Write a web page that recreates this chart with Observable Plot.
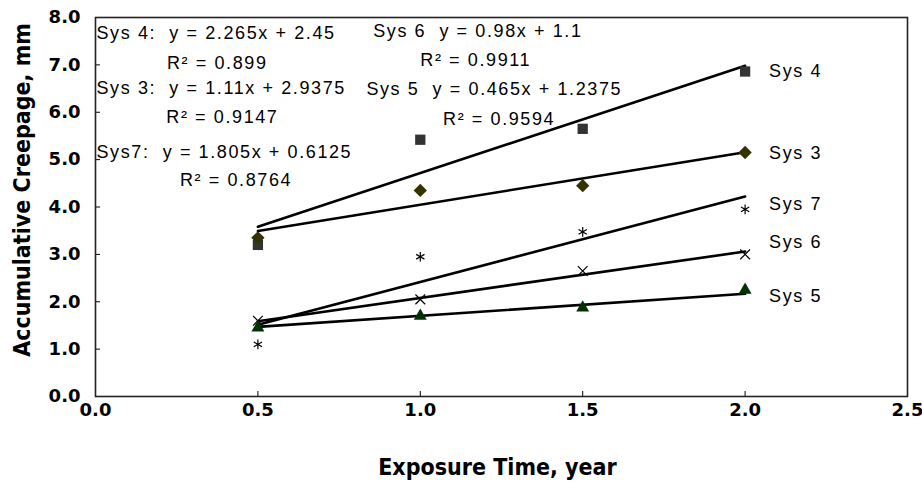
<!DOCTYPE html>
<html><head><meta charset="utf-8">
<script src="https://cdn.jsdelivr.net/npm/d3@7"></script>
<script src="https://cdn.jsdelivr.net/npm/@observablehq/plot@0.6"></script>
<style>
body{margin:0;background:#fff;}
g[aria-description="annotations"] text{letter-spacing:1.6px;}
</style>
</head><body><div id="chart"></div>
<script>
// ---- data ----
const years = [0.5, 1.0, 1.5, 2.0];
const systems = ["Sys 4", "Sys 3", "Sys 7", "Sys 6", "Sys 5"];
const sys4 = [3.2, 5.42, 5.65, 6.86];
const sys3 = [3.35, 4.35, 4.45, 5.15];
const sys7 = [1.1, 2.95, 3.475, 3.95];
const sys6 = [1.6, 2.05, 2.65, 3.0];
const sys5 = [1.45, 1.7, 1.875, 2.25];
const seriesValues = [sys4, sys3, sys7, sys6, sys5];
const slopes = [2.265, 1.11, 1.805, 0.98, 0.465];
const intercepts = [2.45, 2.9375, 0.6125, 1.1, 1.2375];
const symbols = ["square", "diamond2", "asterisk", "times", "triangle"];
const symbolR = [5.8, 6, 4.5, 4.5, 4.8];
const colors = ["#333333", "#333300", "#000000", "#000000", "#003300"];
const seriesLabelY = [6.86, 5.13, 4.05, 3.25, 2.11];

const eqTexts = [
  "Sys 4:\u00a0 y = 2.265x + 2.45", "R² = 0.899",
  "Sys 3:\u00a0 y = 1.11x + 2.9375", "R² = 0.9147",
  "Sys7:\u00a0 y = 1.805x + 0.6125", "R² = 0.8764",
  "Sys 6\u00a0 y = 0.98x + 1.1", "R² = 0.9911",
  "Sys 5\u00a0 y = 0.465x + 1.2375", "R² = 0.9594"
];
const eqX = [0.003, 0.22, 0.003, 0.218, 0.003, 0.26, 0.855, 1.0, 0.834, 1.07];
const eqY = [7.66, 7.03, 6.50, 5.89, 5.15, 4.56, 7.72, 7.09, 6.48, 5.86];

const xTicks = [0, 0.5, 1.0, 1.5, 2.0, 2.5];
const yTicks = [0, 1, 2, 3, 4, 5, 6, 7, 8];
const xTitle = "Exposure Time, year";
const yTitle = "Accumulative Creepage, mm";

// ---- tables ----
const seriesPoints = systems.map((s, i) => years.map((x, j) => ({sys: s, x, y: seriesValues[i][j]})));
const xExtent = d3.extent(years);
const trend = systems.flatMap((s, i) => xExtent.map(x => ({sys: s, x, y: slopes[i] * x + intercepts[i]})));
const seriesLabels = systems.map((s, i) => ({sys: s, x: d3.max(years), y: seriesLabelY[i]}));
const eqs = eqTexts.map((t, i) => ({t, x: eqX[i], y: eqY[i]}));
const filled = new Set(["square", "diamond2", "triangle"]);

const tickFont = "DejaVu Sans";
const titleFont = "'Liberation Sans Narrow', 'DejaVu Sans Condensed', 'Arial Narrow', sans-serif";
const annFont = "'Liberation Sans', Arial, sans-serif";

const dotMarks = systems.map((s, i) => filled.has(symbols[i])
  ? Plot.dot(seriesPoints[i], {x: "x", y: "y", symbol: symbols[i], fill: colors[i], r: symbolR[i], stroke: "none"})
  : Plot.dot(seriesPoints[i], {x: "x", y: "y", symbol: symbols[i], stroke: colors[i], r: symbolR[i], strokeWidth: 1.2, fill: "none"}));

const chart = Plot.plot({
  width: 922, height: 489,
  marginLeft: 95, marginRight: 15, marginTop: 17, marginBottom: 93,
  x: {domain: [0, 2.5]},
  y: {domain: [0, 8]},
  marks: [
    Plot.axisX({ticks: xTicks, tickFormat: d3.format(".1f"), tickSize: -5, tickPadding: 12, label: null,
      fontSize: 18, fontWeight: "bold", fontFamily: tickFont, fill: "#000", stroke: "#000"}),
    Plot.axisY({ticks: yTicks, tickFormat: d3.format(".1f"), tickSize: -5, tickPadding: 20, label: null,
      fontSize: 18, fontWeight: "bold", fontFamily: tickFont, fill: "#000", stroke: "#000"}),
    Plot.frame({stroke: "#222", strokeWidth: 1.6}),
    Plot.line(trend, {x: "x", y: "y", z: "sys", stroke: "#000", strokeWidth: 2.6}),
    ...dotMarks,
    Plot.text(seriesLabels, {x: "x", y: "y", text: "sys", dx: 24, textAnchor: "start",
      fontSize: 18, fontFamily: annFont, fill: "#000", ariaDescription: "annotations"}),
    Plot.text(eqs, {x: "x", y: "y", text: "t", textAnchor: "start",
      fontSize: 18, fontFamily: annFont, fill: "#000", ariaDescription: "annotations"}),
    Plot.text([yTitle], {frameAnchor: "left", rotate: -90, dx: -73, dy: -17, textAnchor: "middle", lineAnchor: "middle",
      fontSize: 23, fontWeight: "bold", fontFamily: titleFont, fill: "#000"}),
    Plot.text([xTitle], {frameAnchor: "bottom", dx: -4, dy: 71, textAnchor: "middle", lineAnchor: "middle",
      fontSize: 23, fontWeight: "bold", fontFamily: titleFont, fill: "#000"})
  ]
});
chart.style.overflow = "visible";
document.getElementById("chart").append(chart);
</script>
</body></html>
